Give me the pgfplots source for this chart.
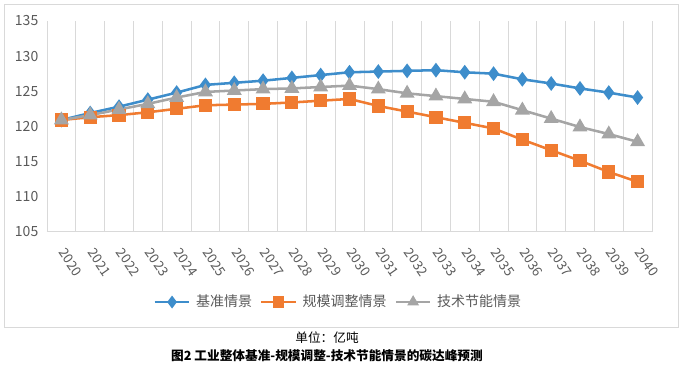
\documentclass[border=0pt]{standalone}
\usepackage{pgfplots}
\pgfplotsset{compat=1.18}
\usepackage{fontspec}
\setmainfont{Noto Sans CJK SC}
\definecolor{cblue}{HTML}{3D8DCB}
\definecolor{corange}{HTML}{F07B30}
\definecolor{cgray}{HTML}{A5A5A5}
\definecolor{ctext}{HTML}{595959}
\definecolor{cgrid}{HTML}{D9D9D9}
\begin{document}
\begin{tikzpicture}
\path[use as bounding box] (0pt,0pt) rectangle (513.75pt,-279pt);
\draw[cgrid,line width=0.6pt] (3pt,-3pt) rectangle (508.5pt,-245.25pt);
\begin{axis}[
  at={(35.25pt,-15.75pt)}, anchor=north west,
  scale only axis, width=453.75pt, height=158pt,
  xmin=-0.5, xmax=20.5, ymin=105, ymax=135,
  ytick={105,110,...,135},
  xtick={0,...,20},
  xticklabels={2020,2021,2022,2023,2024,2025,2026,2027,2028,2029,2030,2031,2032,2033,2034,2035,2036,2037,2038,2039,2040},
  minor xtick={-0.5,0.5,...,20.5},
  xminorgrids, minor x grid style={cgrid,line width=0.6pt},
  major tick length=0pt, minor tick length=0pt,
  axis line style={draw=none},
  /pgf/number format/assume math mode=true,
  yticklabel style={font=\fontsize{10.5}{12}\selectfont, text=ctext, xshift=-3pt},
  xticklabel style={font=\fontsize{10}{11}\selectfont, text=ctext, xshift=-1.5pt, yshift=-11pt, rotate=-55, anchor=west},
  legend style={at={(0.482,-0.334)}, anchor=center, draw=none, fill=none,
    font=\fontsize{10.5}{12}\selectfont, text=ctext, column sep=2pt,
    /tikz/every even column/.append style={column sep=4pt}},
  legend columns=3,
  legend image code/.code={
    \draw[#1,mark=none] (0pt,0pt) -- (26pt,0pt);
    \draw[#1,only marks,mark size=3.3pt] plot coordinates {(13pt,0pt)};
  },
  clip=false,
]
\addplot[cblue, line width=1.9pt, mark=diamond*, mark size=4pt, mark options={solid}] coordinates {
(0,120.9) (1,121.9) (2,122.8) (3,123.8) (4,124.8) (5,125.9) (6,126.2) (7,126.5) (8,126.9) (9,127.3) (10,127.7)
(11,127.8) (12,127.9) (13,128.0) (14,127.7) (15,127.5) (16,126.7) (17,126.1) (18,125.4) (19,124.8) (20,124.1)};
\addlegendentry{基准情景}
\addplot[corange, line width=1.9pt, mark=square*, mark size=4pt] coordinates {
(0,120.9) (1,121.3) (2,121.6) (3,122.0) (4,122.5) (5,123.0) (6,123.1) (7,123.2) (8,123.4) (9,123.65) (10,123.9)
(11,122.9) (12,122.1) (13,121.3) (14,120.5) (15,119.7) (16,118.1) (17,116.6) (18,115.1) (19,113.5) (20,112.1)};
\addlegendentry{规模调整情景}
\addplot[cgray, line width=1.9pt, mark=triangle*, mark size=4.6pt] coordinates {
(0,120.9) (1,121.6) (2,122.4) (3,123.2) (4,124.1) (5,124.9) (6,125.1) (7,125.3) (8,125.4) (9,125.6) (10,125.8)
(11,125.3) (12,124.7) (13,124.3) (14,123.9) (15,123.5) (16,122.3) (17,121.1) (18,119.9) (19,118.9) (20,117.8)};
\addlegendentry{技术节能情景}
\draw[cgrid,line width=0.6pt] (rel axis cs:0,0) -- (rel axis cs:1,0);
\end{axis}
\node[font=\fontsize{9.5}{11}\selectfont, text=black] at (245.25pt,-253.5pt) {单位：亿吨};
\node[font=\fontsize{9.5}{11}\selectfont\bfseries, text=black] at (245.25pt,-267pt) {图2 工业整体基准-规模调整-技术节能情景的碳达峰预测};
\end{tikzpicture}
\end{document}
